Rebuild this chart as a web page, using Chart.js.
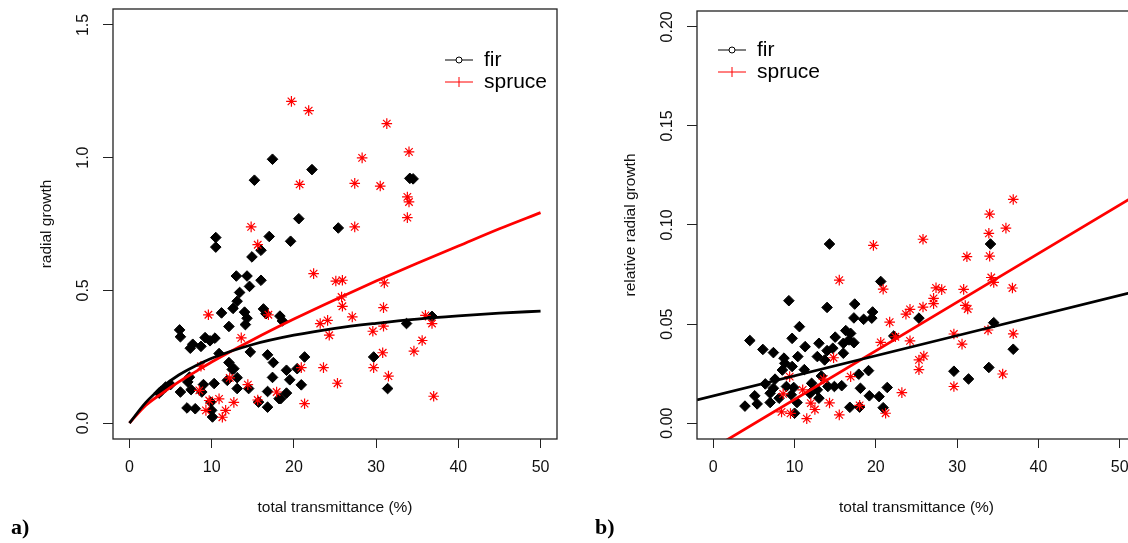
<!DOCTYPE html>
<html>

<head>
    <title>fir / spruce radial growth</title>
    <script src="https://cdn.jsdelivr.net/npm/chart.js"></script>
    <style>
        body {
            margin: 0;
            background: #fff;
            overflow: hidden;
            width: 1128px;
            height: 543px;
            position: relative;
        }

        canvas {
            position: absolute;
            top: 0;
        }

        #panelA {
            left: 0;
        }

        #panelB {
            left: 580px;
        }
    </style>
</head>

<body>
    <canvas id="panelA" width="580" height="543"></canvas>
    <canvas id="panelB" width="570" height="543"></canvas>

    <script>
        // ---- data ----
        var xTicks = [0, 10, 20, 30, 40, 50];
        var yTicksA = [0, 0.5, 1.0, 1.5];
        var yTicksB = [0, 0.05, 0.10, 0.15, 0.20];

        // panel a) scatter, [transmittance, radial growth]
        var firA = [[17.4, 0.994], [15.2, 0.915], [20.6, 0.770], [17.0, 0.703], [19.6, 0.685], [10.5, 0.699], [10.5, 0.663],
        [16.0, 0.651], [14.9, 0.626], [13.0, 0.554], [14.3, 0.554], [16.0, 0.538], [22.2, 0.955], [34.1, 0.922], [34.5, 0.920],
        [25.4, 0.735], [14.6, 0.515], [13.4, 0.492], [13.1, 0.459], [12.6, 0.432], [11.2, 0.415], [14.0, 0.418], [14.3, 0.395],
        [14.1, 0.371], [16.3, 0.430], [16.6, 0.412], [18.3, 0.403], [18.6, 0.385], [12.1, 0.364], [6.1, 0.351], [6.2, 0.325],
        [9.2, 0.322], [9.8, 0.310], [10.4, 0.320], [7.7, 0.297], [7.4, 0.282], [8.7, 0.289], [10.9, 0.262], [14.7, 0.268],
        [16.8, 0.257], [17.5, 0.228], [19.1, 0.199], [21.3, 0.249], [20.4, 0.205], [12.1, 0.228], [12.5, 0.202], [19.5, 0.163],
        [20.9, 0.144], [17.4, 0.172], [16.8, 0.119], [18.2, 0.092], [16.8, 0.060], [15.7, 0.079], [13.1, 0.130], [14.5, 0.130],
        [10.3, 0.149], [9.0, 0.145], [8.8, 0.117], [7.3, 0.173], [7.1, 0.155], [3.8, 0.119], [4.4, 0.136], [5.0, 0.145],
        [3.6, 0.113], [7.5, 0.126], [6.2, 0.117], [7.0, 0.057], [8.0, 0.054], [10.1, 0.023], [10.0, 0.048], [9.9, 0.079],
        [11.9, 0.161], [33.7, 0.375], [36.8, 0.402], [29.7, 0.249], [31.4, 0.130], [18.4, 0.092], [19.1, 0.113], [13.1, 0.171],
        [12.7, 0.205]];
        var spruceA = [[19.7, 1.212], [21.8, 1.177], [31.3, 1.128], [28.3, 0.999], [34.0, 1.022], [20.7, 0.899], [27.4, 0.903],
        [30.5, 0.893], [33.8, 0.852], [34.0, 0.833], [33.8, 0.774], [27.4, 0.739], [14.8, 0.739], [15.6, 0.672], [22.4, 0.563],
        [25.1, 0.535], [25.9, 0.538], [31.0, 0.528], [25.8, 0.475], [25.9, 0.440], [30.9, 0.435], [27.1, 0.400], [23.2, 0.375],
        [24.1, 0.387], [29.6, 0.346], [24.3, 0.331], [30.9, 0.365], [36.0, 0.406], [36.8, 0.375], [35.6, 0.311], [34.6, 0.271],
        [30.8, 0.265], [29.7, 0.209], [23.6, 0.209], [20.9, 0.209], [31.5, 0.177], [25.3, 0.150], [21.3, 0.073], [37.0, 0.101],
        [9.6, 0.408], [16.9, 0.408], [13.6, 0.321], [8.7, 0.214], [12.2, 0.170], [14.4, 0.145], [8.5, 0.123], [17.9, 0.117],
        [15.6, 0.087], [9.7, 0.085], [10.9, 0.091], [12.7, 0.078], [9.3, 0.048], [11.7, 0.048], [11.3, 0.022]];

        // panel a) fitted curves, read at these x
        var curveX = [0, 2, 4, 6, 8, 10, 15, 20, 25, 30, 35, 40, 45, 50];
        var firCurveA = [0, 0.078, 0.136, 0.181, 0.215, 0.244, 0.296, 0.331, 0.357, 0.376, 0.392, 0.404, 0.414, 0.422];
        var spruceCurveA = [0, 0.067, 0.113, 0.155, 0.193, 0.230, 0.314, 0.392, 0.465, 0.535, 0.602, 0.667, 0.732, 0.793];

        // panel b) scatter, [transmittance, relative radial growth]
        var firB = [[14.3, 0.0904], [20.6, 0.0715], [9.3, 0.0618], [14.0, 0.0584], [17.4, 0.0601], [17.3, 0.0531], [18.5, 0.0524],
        [19.6, 0.0561], [19.5, 0.0530], [4.5, 0.0417], [6.1, 0.0372], [7.4, 0.0356], [10.6, 0.0487], [9.7, 0.0428], [8.7, 0.0328],
        [8.8, 0.0302], [10.4, 0.0336], [11.3, 0.0386], [13.0, 0.0403], [12.8, 0.0336], [13.7, 0.0319], [14.0, 0.0366],
        [14.7, 0.0378], [15.0, 0.0434], [16.3, 0.0467], [16.9, 0.0453], [16.7, 0.0420], [16.0, 0.0403], [17.3, 0.0406],
        [16.0, 0.0353], [9.7, 0.0286], [11.2, 0.0270], [6.4, 0.0198], [7.6, 0.0222], [7.4, 0.0176], [9.0, 0.0185], [7.0, 0.0151],
        [5.1, 0.0138], [3.9, 0.0086], [5.4, 0.0097], [7.0, 0.0104], [8.1, 0.0126], [9.6, 0.0143], [10.3, 0.0104], [10.0, 0.0050],
        [11.9, 0.0150], [12.1, 0.0201], [12.8, 0.0168], [13.0, 0.0126], [13.3, 0.0238], [14.1, 0.0185], [14.9, 0.0185],
        [15.8, 0.0189], [17.9, 0.0247], [19.1, 0.0265], [18.1, 0.0176], [19.2, 0.0138], [20.4, 0.0134], [21.4, 0.0180],
        [16.8, 0.0080], [18.0, 0.0081], [20.9, 0.0078], [34.1, 0.0904], [25.3, 0.0530], [22.2, 0.0440], [34.5, 0.0507],
        [36.9, 0.0373], [29.6, 0.0262], [31.4, 0.0223], [33.9, 0.0281], [8.5, 0.0268], [9.9, 0.0180]];
        var spruceB = [[36.9, 0.1129], [34.0, 0.1055], [36.0, 0.0984], [33.9, 0.0958], [25.8, 0.0928], [19.7, 0.0897],
        [31.2, 0.0840], [34.0, 0.0843], [34.2, 0.0735], [34.5, 0.0710], [36.8, 0.0682], [15.5, 0.0722], [20.9, 0.0676],
        [27.4, 0.0683], [28.1, 0.0674], [30.8, 0.0675], [27.1, 0.0630], [27.1, 0.0603], [24.2, 0.0574], [23.7, 0.0550],
        [25.8, 0.0586], [31.0, 0.0594], [31.3, 0.0576], [21.7, 0.0510], [29.6, 0.0450], [30.6, 0.0399], [33.8, 0.0470],
        [36.9, 0.0451], [22.4, 0.0436], [24.2, 0.0415], [20.6, 0.0408], [25.9, 0.0339], [25.3, 0.0319], [25.3, 0.0270],
        [35.6, 0.0248], [29.6, 0.0185], [23.2, 0.0154], [21.2, 0.0050], [18.0, 0.0090], [14.8, 0.0330], [16.9, 0.0235],
        [13.6, 0.0222], [9.4, 0.0235], [8.6, 0.0148], [11.0, 0.0168], [14.3, 0.0102], [15.5, 0.0042], [12.0, 0.0101],
        [12.5, 0.0069], [8.4, 0.0057], [9.5, 0.0049], [11.5, 0.0023]];

        // panel b) regression lines, ends at the plot edges
        var lineX = [-2, 52];
        var firLineB = [0.0117, 0.0665];
        var spruceLineB = [-0.0175, 0.1151];

        var FONT = '"Liberation Sans", Arial, sans-serif';

        function pairs(arr) {
            return arr.map(function (p) { return { x: p[0], y: p[1] }; });
        }
        function zipXY(xs, ys) {
            return xs.map(function (x, i) { return { x: x, y: ys[i] }; });
        }

        // R-like decorations: box, rotated y labels, titles, legend, panel letter
        var rStyle = {
            id: "rStyle",
            afterDraw: function (chart, args, o) {
                var ctx = chart.ctx;
                var a = chart.chartArea;
                var yScale = chart.scales.y;
                ctx.save();

                ctx.strokeStyle = "#222";
                ctx.lineWidth = 1.3;
                ctx.strokeRect(a.left, a.top, a.right - a.left, a.bottom - a.top);

                ctx.fillStyle = "#111";
                ctx.font = "16px " + FONT;
                ctx.textAlign = "center";
                ctx.textBaseline = "middle";
                o.yTicks.forEach(function (v) {
                    ctx.save();
                    ctx.translate(a.left - 29, yScale.getPixelForValue(v));
                    ctx.rotate(-Math.PI / 2);
                    ctx.fillText(v.toFixed(o.decimals), 0, 0);
                    ctx.restore();
                });

                ctx.font = "15.5px " + FONT;
                ctx.save();
                ctx.translate(a.left - 66, (a.top + a.bottom) / 2);
                ctx.rotate(-Math.PI / 2);
                ctx.fillText(o.yTitle, 0, 0);
                ctx.restore();
                ctx.fillText("total transmittance (%)", (a.left + a.right) / 2, a.bottom + 69);

                // legend
                var lx = a.left + o.legendX, ly = a.top + o.legendY;
                ctx.lineWidth = 1;
                ctx.strokeStyle = "#000";
                ctx.beginPath();
                ctx.moveTo(lx, ly); ctx.lineTo(lx + 28, ly);
                ctx.stroke();
                ctx.beginPath();
                ctx.fillStyle = "#fff";
                ctx.arc(lx + 14, ly, 3, 0, Math.PI * 2);
                ctx.fill(); ctx.stroke();
                ctx.strokeStyle = "#ff0000";
                ctx.beginPath();
                ctx.moveTo(lx, ly + 22); ctx.lineTo(lx + 28, ly + 22);
                ctx.moveTo(lx + 14, ly + 17); ctx.lineTo(lx + 14, ly + 27);
                ctx.stroke();
                ctx.fillStyle = "#000";
                ctx.font = "21px " + FONT;
                ctx.textAlign = "left";
                ctx.fillText("fir", lx + 39, ly);
                ctx.fillText("spruce", lx + 39, ly + 22);

                ctx.font = "bold 22px \"Liberation Serif\", serif";
                ctx.fillText(o.letter, o.letterX, 528);
                ctx.restore();
            }
        };

        function makePanel(id, cfg) {
            var ctx = document.getElementById(id).getContext("2d");
            return new Chart(ctx, {
                type: "scatter",
                data: {
                    datasets: [
                        {
                            label: "fir fit", data: cfg.firLine, showLine: true, order: 0,
                            borderColor: "#000", borderWidth: 2.8, pointRadius: 0, cubicInterpolationMode: "monotone"
                        },
                        {
                            label: "spruce fit", data: cfg.spruceLine, showLine: true, order: 0,
                            borderColor: "#ff0000", borderWidth: 2.8, pointRadius: 0, cubicInterpolationMode: "monotone"
                        },
                        {
                            label: "fir", data: cfg.fir, order: 2, pointStyle: "rectRot", pointRadius: 5.3,
                            backgroundColor: "#000", borderColor: "#000", borderWidth: 1
                        },
                        {
                            label: "spruce", data: cfg.spruce, order: 1, pointStyle: "star", pointRadius: 5.3,
                            backgroundColor: "#ff0000", borderColor: "#ff0000", borderWidth: 1.2
                        }
                    ]
                },
                options: {
                    responsive: false,
                    animation: false,
                    devicePixelRatio: 1,
                    layout: { padding: { top: cfg.top, right: cfg.right, left: 0, bottom: 0 } },
                    plugins: {
                        legend: { display: false },
                        tooltip: { enabled: false },
                        rStyle: cfg.deco
                    },
                    scales: {
                        x: {
                            type: "linear", min: -2, max: 52,
                            afterBuildTicks: function (s) { s.ticks = xTicks.map(function (v) { return { value: v }; }); },
                            afterFit: function (s) { s.height = 104; },
                            border: { display: false },
                            grid: { drawOnChartArea: false, drawTicks: true, tickLength: 9, color: "#222" },
                            ticks: { color: "#111", font: { family: FONT, size: 16 }, padding: 10, maxRotation: 0 }
                        },
                        y: {
                            type: "linear", min: cfg.yMin, max: cfg.yMax,
                            afterBuildTicks: function (s) { s.ticks = cfg.deco.yTicks.map(function (v) { return { value: v }; }); },
                            afterFit: function (s) { s.width = cfg.left; },
                            border: { display: false },
                            grid: { drawOnChartArea: false, drawTicks: true, tickLength: 10, color: "#222" },
                            ticks: { display: false }
                        }
                    }
                },
                plugins: [rStyle]
            });
        }

        makePanel("panelA", {
            fir: pairs(firA), spruce: pairs(spruceA),
            firLine: zipXY(curveX, firCurveA), spruceLine: zipXY(curveX, spruceCurveA),
            yMin: -0.06, yMax: 1.56, top: 9, right: 23, left: 113,
            deco: { yTicks: yTicksA, decimals: 1, yTitle: "radial growth", legendX: 332, legendY: 51, letter: "a)", letterX: 11 }
        });

        makePanel("panelB", {
            fir: pairs(firB), spruce: pairs(spruceB),
            firLine: zipXY(lineX, firLineB), spruceLine: zipXY(lineX, spruceLineB),
            yMin: -0.008, yMax: 0.208, top: 11, right: 14, left: 117,
            deco: { yTicks: yTicksB, decimals: 2, yTitle: "relative radial growth", legendX: 21, legendY: 39, letter: "b)", letterX: 15 }
        });
    </script>
</body>

</html>
